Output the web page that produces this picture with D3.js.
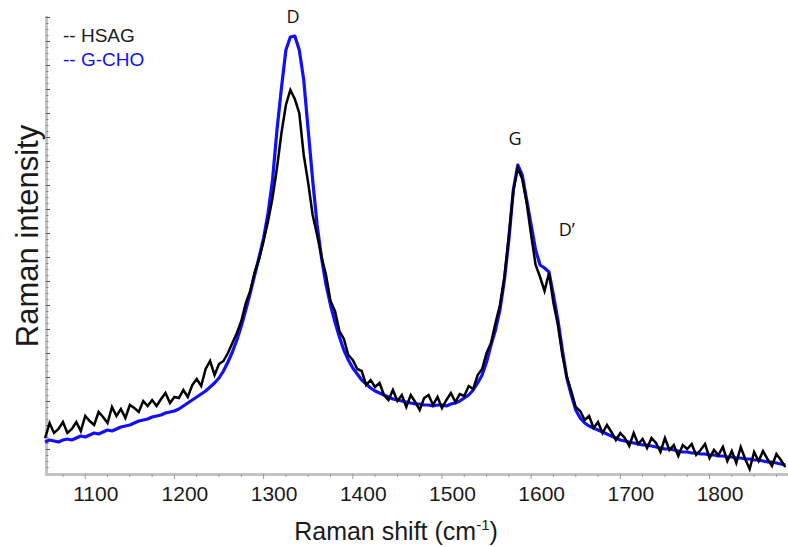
<!DOCTYPE html>
<html>
<head>
<meta charset="utf-8">
<script src="https://cdn.jsdelivr.net/npm/d3@7"></script>
<style>
  html, body { margin: 0; padding: 0; background: #fff; }
  svg { display: block; }
</style>
</head>
<body>
<svg id="chart" width="788" height="547"></svg>
<script>
// Raman shift grid (cm-1)
const shift = [1055,1060,1065,1070,1075,1080,1085,1090,1095,1100,1105,1110,1115,1120,1125,1130,1135,1140,1145,1150,1155,1160,1165,1170,1175,1180,1185,1190,1195,1200,1205,1210,1215,1220,1225,1230,1235,1240,1245,1250,1255,1260,1265,1270,1275,1280,1285,1290,1295,1300,1305,1310,1315,1320,1325,1330,1335,1340,1345,1350,1355,1360,1365,1370,1375,1380,1385,1390,1395,1400,1405,1410,1415,1420,1425,1430,1435,1440,1445,1450,1455,1460,1465,1470,1475,1480,1485,1490,1495,1500,1505,1510,1515,1520,1525,1530,1535,1540,1545,1550,1555,1560,1565,1570,1575,1580,1585,1590,1595,1600,1605,1610,1615,1620,1625,1630,1635,1640,1645,1650,1655,1660,1665,1670,1675,1680,1685,1690,1695,1700,1705,1710,1715,1720,1725,1730,1735,1740,1745,1750,1755,1760,1765,1770,1775,1780,1785,1790,1795,1800,1805,1810,1815,1820,1825,1830,1835,1840,1845,1850,1855,1860,1865,1870,1875,1880,1885];

// G-CHO intensity (a.u.)
const gcho = [31,33,32,31,33,34,33,35,37,36,38,40,39,41,43,42,44,46,47,48,50,52,53,54,56,57,58,60,61,62,64,67,70,73,76,79,82,86,90,95,102,111,121,133,147,163,180,198,216,235,260,293,343,385,423,436,437,423,393,343,293,248,215,188,168,151,136,123,113,105,99,93,89,85,82,80,78,76,74,73,72,71,70,69,69,68,68,67,68,68,67,69,70,72,75,78,83,90,98,111,128,143,163,193,233,283,308,298,273,248,223,208,205,201,178,153,123,95,78,63,55,50,47,45,43,41,39,37,35,33,32,31,30,29,28,28,27,26,25,24,24,23,22,21,21,20,20,19,19,18,18,17,17,16,16,15,15,14,14,13,13,12,11,11,10,9,8];

// HSAG intensity (a.u.)
const hsag = [35,50,40,44,51,40,44,51,42,57,52,48,61,56,50,66,57,64,55,68,65,61,72,67,73,67,74,80,70,76,75,83,76,88,94,87,104,112,98,109,112,120,130,140,152,170,182,201,214,232,252,275,305,340,368,383,374,360,318,290,258,238,216,198,172,162,142,134,118,113,104,102,88,93,86,90,78,73,83,72,78,66,78,71,63,75,78,68,76,65,73,80,71,79,77,87,84,98,104,120,130,150,168,196,238,282,305,294,270,238,208,196,182,200,170,148,118,96,82,66,62,53,57,45,51,40,48,41,33,40,35,27,40,29,34,25,35,30,21,35,23,28,17,28,24,29,18,23,29,15,23,18,26,12,22,10,26,14,4,21,12,22,14,7,19,13,6];

const xTicks = [1100,1200,1300,1400,1500,1600,1700,1800];
const seriesNames = ["HSAG","G-CHO"];
const seriesColors = ["#000000","#1010ff"];
const peakLabels = [
  {name:"D", shift:1333, value:450},
  {name:"G", shift:1582, value:328},
  {name:"D\u2019", shift:1640, value:237}
];

const svg = d3.select("#chart");
const x = d3.scaleLinear().domain([1056, 1888]).range([46, 788]);
const y = d3.scaleLinear().domain([0, 457]).range([473, 16]);

// axes
const axisColor = "#c4c4c4";
svg.append("line").attr("x1",46.5).attr("x2",46.5).attr("y1",16).attr("y2",474)
  .attr("stroke",axisColor).attr("stroke-width",3);
svg.append("line").attr("x1",45).attr("x2",788).attr("y1",474.5).attr("y2",474.5)
  .attr("stroke",axisColor).attr("stroke-width",3);

// x ticks
const xMinor = d3.range(1075, 1888, 25);
svg.append("g").selectAll("line").data(xMinor).join("line")
  .attr("x1",d=>x(d)).attr("x2",d=>x(d))
  .attr("y1",474).attr("y2",d=> d%100===0 ? 479 : 477)
  .attr("stroke","#9a9a9a").attr("stroke-width",1);

const xAxis = d3.axisBottom(x).tickValues(xTicks).tickSize(0).tickFormat(d3.format("d"));
const gx = svg.append("g").attr("transform","translate(0,476)").call(xAxis);
gx.select(".domain").remove();
gx.selectAll("text").attr("dx",10).attr("dy","1.05em")
  .style("font-family","'Liberation Sans', Arial, sans-serif").style("font-size","21px").attr("fill","#1a1a1a");

// y ticks
const yMinor = d3.range(6, 457, 6);
svg.append("g").selectAll("line").data(yMinor).join("line")
  .attr("x1",46).attr("x2",d=> d%24===0 ? 50 : 48.5)
  .attr("y1",d=>y(d)+0.5).attr("y2",d=>y(d)+0.5)
  .attr("stroke",d=> d%24===0 ? "#555" : "#8a8a8a").attr("stroke-width",1);

// lines
const line = d3.line().x((d,i)=>x(shift[i])).y(d=>y(d)).curve(d3.curveLinear);
svg.append("path").datum(gcho).attr("d",line).attr("fill","none")
  .attr("stroke",seriesColors[1]).attr("stroke-width",3.2).attr("stroke-linejoin","round");
svg.append("path").datum(hsag).attr("d",line).attr("fill","none")
  .attr("stroke",seriesColors[0]).attr("stroke-width",2.5).attr("stroke-linejoin","miter");

// legend
const leg = svg.append("g").style("font-family","'Liberation Sans', Arial, sans-serif").style("font-size","19px");
seriesNames.forEach((n,i)=>{
  leg.append("text").attr("x",63).attr("y",42+i*24).attr("fill",i===0?"#1a1a1a":"#1010ff")
    .text("-- "+n);
});

// peak labels
svg.append("g").selectAll("text").data(peakLabels).join("text")
  .attr("x",d=>x(d.shift)).attr("y",d=>y(d.value)).attr("text-anchor","middle")
  .style("font-family","'Open Sans', sans-serif").style("font-size","18px").attr("fill","#111")
  .text(d=>d.name);

// axis titles
const xt = svg.append("text").attr("x",396).attr("y",540).attr("text-anchor","middle")
  .style("font-family","'Liberation Sans', Arial, sans-serif").style("font-size","25px").attr("fill","#1a1a1a");
xt.append("tspan").text("Raman shift (cm");
xt.append("tspan").attr("dy",-10).style("font-size","15px").text("-1");
xt.append("tspan").attr("dy",10).text(")");

svg.append("text").attr("transform","translate(38,236) rotate(-90)").attr("text-anchor","middle")
  .style("font-family","'Liberation Sans', Arial, sans-serif").style("font-size","31px").attr("fill","#1a1a1a")
  .text("Raman intensity");
</script>
</body>
</html>
